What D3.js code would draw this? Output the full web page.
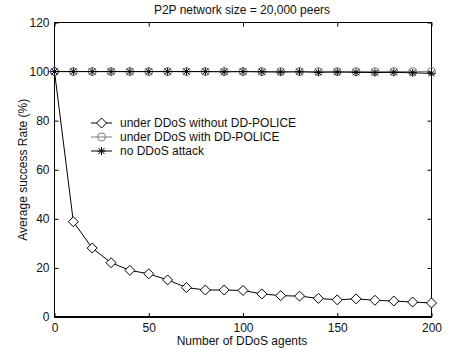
<!DOCTYPE html>
<html>
<head>
<meta charset="utf-8">
<script src="https://cdn.jsdelivr.net/npm/d3@7"></script>
<style>
  body { margin: 0; background: #fff; }
  svg { display: block; font-family: "Liberation Sans", Arial, sans-serif; }
</style>
</head>
<body>
<svg id="chart" width="452" height="352"></svg>
<script>
// Number of DDoS agents
const agents = [0, 10, 20, 30, 40, 50, 60, 70, 80, 90, 100, 110, 120, 130, 140, 150, 160, 170, 180, 190, 200];
// Average success rate (%) for each scenario
const withoutPolice = [100, 38.8, 28.1, 22.1, 19.0, 17.6, 15.1, 12.0, 11.0, 11.0, 10.8, 9.4, 8.7, 8.5, 7.6, 7.0, 7.4, 6.8, 6.5, 6.1, 5.7];
const withPolice = [100, 100, 100, 100, 100, 100, 100, 100, 100, 100, 100, 100, 100, 100, 100, 100, 100, 100, 100, 100, 100];
const noAttack = [100, 100, 100, 100, 100, 100, 100, 100, 100, 99.9, 100, 99.9, 99.8, 99.9, 99.7, 99.8, 99.7, 99.6, 99.7, 99.5, 99.3];
const xTicks = [0, 50, 100, 150, 200];
const yTicks = [0, 20, 40, 60, 80, 100, 120];
const seriesNames = ["under DDoS without DD-POLICE", "under DDoS with DD-POLICE", "no DDoS attack"];

const svg = d3.select("#chart");
const L = 54.5, R = 431.5, T = 22.5, B = 317;
const x = d3.scaleLinear().domain([0, 200]).range([L, R]);
const y = d3.scaleLinear().domain([0, 120]).range([B, T]);
const fs = 12;

// Frame box
svg.append("rect").attr("x", L).attr("y", T).attr("width", R - L).attr("height", B - T)
  .attr("fill", "none").attr("stroke", "#000").attr("stroke-width", 1);
svg.append("line").attr("x1", L).attr("x2", R + 0.5).attr("y1", B).attr("y2", B)
  .attr("stroke", "#000").attr("stroke-width", 2);

// Axes with inward ticks
const tickLen = 4;
const gx = svg.append("g").attr("transform", `translate(0,${B})`)
  .call(d3.axisBottom(x).tickValues(xTicks).tickSize(-tickLen).tickPadding(tickLen + 2));
const gxTop = svg.append("g").attr("transform", `translate(0,${T})`)
  .call(d3.axisTop(x).tickValues(xTicks).tickSize(-tickLen).tickFormat(""));
const gy = svg.append("g").attr("transform", `translate(${L},0)`)
  .call(d3.axisLeft(y).tickValues(yTicks).tickSize(-tickLen).tickPadding(tickLen + 1));
const gyR = svg.append("g").attr("transform", `translate(${R},0)`)
  .call(d3.axisRight(y).tickValues(yTicks).tickSize(-tickLen).tickFormat(""));
[gx, gxTop, gy, gyR].forEach(g => {
  g.select(".domain").remove();
  g.selectAll(".tick line").attr("stroke", "#000");
  g.selectAll("text").attr("font-size", fs).attr("fill", "#111")
    .attr("font-family", "Liberation Sans, Arial, sans-serif");
});
gx.selectAll("text").attr("dy", "0.71em");

// Titles
svg.append("text").attr("x", 242).attr("y", 14).attr("text-anchor", "middle")
  .attr("font-size", fs).attr("fill", "#111").text("P2P network size = 20,000 peers");
svg.append("text").attr("x", 242).attr("y", 345).attr("text-anchor", "middle")
  .attr("font-size", fs).attr("fill", "#111").text("Number of DDoS agents");
svg.append("text").attr("transform", `translate(27,${(T + B) / 2}) rotate(-90)`)
  .attr("text-anchor", "middle").attr("font-size", fs).attr("fill", "#111")
  .text("Average success Rate (%)");

// Marker drawers
function diamond(g, cx, cy, color) {
  const s = 5;
  g.append("path").attr("d", `M${cx},${cy - s}L${cx + s},${cy}L${cx},${cy + s}L${cx - s},${cy}Z`)
    .attr("fill", "#fff").attr("stroke", color).attr("stroke-width", 1);
}
function circle(g, cx, cy, color) {
  g.append("circle").attr("cx", cx).attr("cy", cy).attr("r", 4)
    .attr("fill", "none").attr("stroke", color).attr("stroke-width", 1);
}
function star(g, cx, cy, color) {
  const s = 4, d = s * 0.75;
  g.append("path")
    .attr("d", `M${cx - s},${cy}L${cx + s},${cy}M${cx},${cy - s}L${cx},${cy + s}M${cx - d},${cy - d}L${cx + d},${cy + d}M${cx - d},${cy + d}L${cx + d},${cy - d}`)
    .attr("stroke", color).attr("stroke-width", 1).attr("fill", "none");
}

const series = [
  { name: seriesNames[0], values: withoutPolice, color: "#000", marker: diamond },
  { name: seriesNames[1], values: withPolice, color: "#7a7a7a", marker: circle },
  { name: seriesNames[2], values: noAttack, color: "#000", marker: star }
];

const line = d3.line().x(d => x(d[0])).y(d => y(d[1]));
series.forEach(s => {
  const g = svg.append("g");
  const pts = agents.map((a, i) => [a, s.values[i]]);
  g.append("path").attr("d", line(pts)).attr("fill", "none")
    .attr("stroke", s.color).attr("stroke-width", 1);
  pts.forEach(p => s.marker(g, x(p[0]), y(p[1]), s.color));
});

// Legend
const lg = svg.append("g");
series.forEach((s, i) => {
  const ly = 123 + i * 14;
  lg.append("line").attr("x1", 91).attr("x2", 112).attr("y1", ly).attr("y2", ly)
    .attr("stroke", s.color).attr("stroke-width", 1);
  s.marker(lg, 101.5, ly, s.color);
  lg.append("text").attr("x", 120).attr("y", ly).attr("dy", "0.35em")
    .attr("font-size", fs).attr("fill", "#111").text(s.name);
});
</script>
</body>
</html>
